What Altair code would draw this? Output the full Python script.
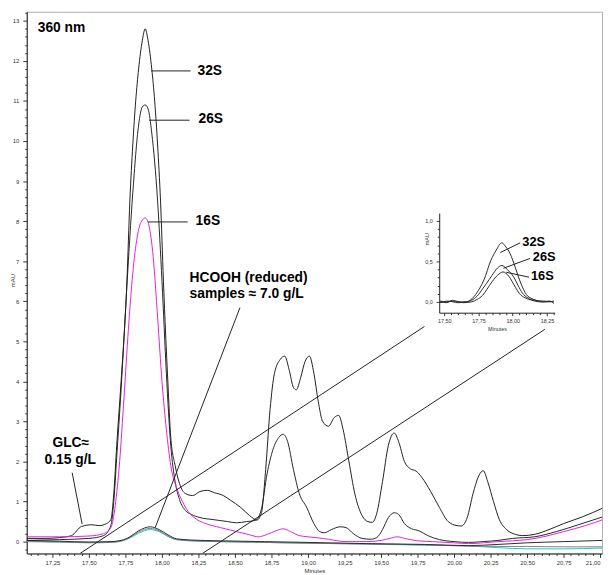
import altair as alt
import pandas as pd
import numpy as np

# ---------------- main chromatogram (minutes, mAU) ----------------
t_32S = [17.07, 17.20, 17.30, 17.38, 17.45, 17.52, 17.57, 17.62, 17.65, 17.67, 17.69, 17.72, 17.76, 17.78,
         17.80, 17.82, 17.84, 17.865, 17.885, 17.905, 17.93, 17.95, 17.97, 17.99, 18.01, 18.04, 18.06, 18.09,
         18.12, 18.16, 18.21, 18.26, 18.31, 18.36, 18.42, 18.47, 18.54, 18.60, 18.65, 18.68, 18.71, 18.74,
         18.77, 18.81, 18.84, 18.87, 18.90, 18.92, 18.95, 18.98, 19.01, 19.04, 19.07, 19.10, 19.14, 19.18,
         19.21, 19.24, 19.28, 19.32, 19.37, 19.41, 19.44, 19.47, 19.51, 19.55, 19.59, 19.62, 19.66, 19.70,
         19.74, 19.78, 19.84, 19.90, 19.96, 20.02, 20.05, 20.09, 20.13, 20.17, 20.20, 20.23, 20.27, 20.31,
         20.36, 20.42, 20.47, 20.55, 20.65, 20.75, 20.88, 21.02]
v_32S = [0.08, 0.08, 0.10, 0.15, 0.38, 0.42, 0.40, 0.45, 0.55, 1.2, 2.4, 4.0, 6.5, 8.5,
         9.9, 11.0, 11.8, 12.5, 12.8, 12.5, 11.8, 11.0, 9.9, 8.5, 6.5, 4.0, 2.6, 1.9,
         1.45, 1.2, 1.15, 1.25, 1.28, 1.22, 1.15, 1.03, 0.85, 0.65, 0.54, 0.7, 1.8, 3.3,
         4.2, 4.55, 4.63, 4.3, 3.85, 3.79, 4.1, 4.5, 4.63, 4.2, 3.5, 3.0, 2.88, 3.1,
         3.15, 2.8, 2.0, 1.2, 0.65, 0.5, 0.48, 0.7, 1.5, 2.4, 2.71, 2.5, 2.0, 1.82,
         1.76, 1.6, 1.25, 0.85, 0.5, 0.4, 0.39, 0.6, 1.2, 1.65, 1.77, 1.5, 1.0, 0.55,
         0.3, 0.18, 0.15, 0.18, 0.3, 0.45, 0.62, 0.84]

t_26S = [17.07, 17.30, 17.50, 17.60, 17.65, 17.67, 17.69, 17.72, 17.76, 17.80, 17.84, 17.865, 17.885,
         17.905, 17.93, 17.97, 18.00, 18.03, 18.06, 18.09, 18.12, 18.16, 18.20, 18.26, 18.35, 18.45, 18.51,
         18.58, 18.64, 18.68, 18.72, 18.76, 18.80, 18.83, 18.86, 18.90, 18.94, 18.99, 19.04, 19.08, 19.11,
         19.16, 19.22, 19.26, 19.31, 19.37, 19.43, 19.47, 19.51, 19.55, 19.59, 19.62, 19.66, 19.71, 19.76,
         19.82, 19.90, 20.00, 20.10, 20.20, 20.30, 20.40, 20.55, 20.70, 20.85, 21.02]
v_26S = [0.03, 0.05, 0.08, 0.15, 0.4, 1.0, 2.1, 3.8, 6.4, 8.7, 10.4, 10.85, 10.9,
         10.8, 10.2, 8.5, 6.5, 4.2, 2.4, 1.5, 1.05, 0.78, 0.68, 0.6, 0.55, 0.5, 0.47,
         0.5, 0.53, 0.8, 1.7, 2.3, 2.6, 2.68, 2.5, 1.8, 1.2, 0.86, 0.45, 0.25, 0.22,
         0.3, 0.37, 0.35, 0.2, 0.08, 0.06, 0.1, 0.3, 0.6, 0.72, 0.68, 0.45, 0.32, 0.27,
         0.15, 0.05, 0.0, -0.02, 0.0, 0.03, 0.08, 0.12, 0.25, 0.42, 0.62]

t_16S = [17.07, 17.30, 17.50, 17.60, 17.65, 17.68, 17.71, 17.74, 17.77, 17.80, 17.83, 17.86, 17.885,
         17.91, 17.94, 17.97, 18.00, 18.03, 18.06, 18.10, 18.14, 18.18, 18.24, 18.30, 18.40, 18.51, 18.60,
         18.66, 18.72, 18.78, 18.83, 18.88, 18.94, 19.00, 19.10, 19.26, 19.40, 19.50, 19.56, 19.61, 19.66,
         19.75, 19.85, 20.00, 20.10, 20.20, 20.30, 20.40, 20.50, 20.61, 20.75, 20.90, 21.02]
v_16S = [0.12, 0.12, 0.14, 0.2, 0.35, 0.9, 2.0, 3.6, 5.3, 6.7, 7.6, 8.0, 8.08,
         7.9, 7.1, 5.6, 4.0, 2.8, 1.9, 1.35, 1.0, 0.75, 0.55, 0.45, 0.35, 0.25, 0.17,
         0.12, 0.18, 0.27, 0.32, 0.25, 0.15, 0.12, 0.08, 0.0, 0.0, 0.03, 0.08, 0.12, 0.08,
         0.02, 0.0, -0.03, -0.05, -0.03, 0.0, 0.02, 0.05, 0.12, 0.25, 0.4, 0.55]

# HCOOH (reduced) samples, low traces
t_low = [17.07, 17.30, 17.50, 17.65, 17.72, 17.78, 17.84, 17.92, 17.98, 18.04, 18.10, 18.20, 18.40,
         18.70, 19.00, 19.40, 19.80, 20.10, 20.30, 20.50, 20.75, 21.02]
v_low1 = [0.03, 0.01, -0.01, 0.0, 0.03, 0.12, 0.27, 0.37, 0.30, 0.17, 0.07, 0.04, 0.02,
          0.0, -0.02, -0.05, -0.07, -0.10, -0.07, -0.03, 0.0, 0.03]
v_low2 = [0.0, -0.01, -0.03, -0.02, 0.01, 0.10, 0.24, 0.33, 0.27, 0.14, 0.05, 0.02, 0.0,
          -0.02, -0.04, -0.06, -0.08, -0.11, -0.12, -0.12, -0.13, -0.13]
v_low3 = [0.01, -0.01, -0.02, -0.01, 0.02, 0.09, 0.21, 0.30, 0.25, 0.13, 0.05, 0.02, 0.0,
          -0.02, -0.04, -0.06, -0.09, -0.11, -0.15, -0.18, -0.18, -0.16]

# ---------------- inset (minutes, mAU) ----------------
ti_32S = [17.47, 17.52, 17.56, 17.60, 17.66, 17.69, 17.72, 17.76, 17.79, 17.84, 17.88, 17.92, 17.95,
          17.98, 18.02, 18.05, 18.08, 18.10, 18.14, 18.17, 18.22, 18.27, 18.30]
vi_32S = [0.0, -0.01, 0.02, 0.0, 0.0, 0.02, 0.07, 0.17, 0.27, 0.51, 0.64, 0.73, 0.68,
          0.60, 0.42, 0.27, 0.15, 0.09, 0.04, 0.02, 0.0, 0.01, -0.02]
ti_26S = [17.47, 17.53, 17.60, 17.66, 17.70, 17.74, 17.78, 17.81, 17.85, 17.89, 17.92, 17.96, 18.01,
          18.04, 18.07, 18.11, 18.16, 18.22, 18.30]
vi_26S = [-0.01, 0.01, -0.01, 0.0, 0.02, 0.07, 0.16, 0.23, 0.33, 0.42, 0.45, 0.40, 0.30,
          0.20, 0.11, 0.05, 0.02, 0.01, 0.0]
ti_16S = [17.47, 17.52, 17.58, 17.64, 17.70, 17.74, 17.78, 17.81, 17.85, 17.89, 17.93, 17.97, 18.02,
          18.05, 18.09, 18.14, 18.20, 18.26, 18.30]
vi_16S = [0.01, 0.0, 0.01, -0.01, 0.0, 0.03, 0.08, 0.15, 0.25, 0.33, 0.37, 0.32, 0.18,
          0.10, 0.05, 0.02, 0.0, 0.0, 0.01]

# annotation texts (main chart coords)
txt_label = ["360 nm", "32S", "26S", "16S", "HCOOH (reduced)", "samples \u2248 7.0 g/L", "GLC\u2248", "0.15 g/L"]
txt_x = [17.149, 18.243, 18.25, 18.23, 18.189, 18.189, 17.25, 17.196]
txt_y = [12.81, 11.75, 10.54, 8.0, 6.58, 6.18, 2.46, 2.04]

# annotation segments (main chart coords)
seg_x1 = [17.926, 17.912, 17.905, 18.534, 17.385, 17.439, 18.277]
seg_y1 = [11.75, 10.52, 7.98, 5.84, 1.72, -0.296, -0.296]
seg_x2 = [18.196, 18.189, 18.176, 17.953, 17.453, 19.797, 20.622]
seg_y2 = [11.75, 10.52, 7.98, 0.345, 0.44, 5.37, 5.30]

# inset annotations
itxt_label = ["32S", "26S", "16S"]
itxt_x = [18.07, 18.147, 18.133]
itxt_y = [0.745, 0.549, 0.317]
iseg_x1 = [17.91, 17.932, 17.953]
iseg_y1 = [0.61, 0.415, 0.366]
iseg_x2 = [18.055, 18.126, 18.119]
iseg_y2 = [0.73, 0.537, 0.305]

X_DOMAIN = [17.074, 21.013]
Y_DOMAIN = [-0.296, 13.227]
IX_DOMAIN = [17.464, 18.306]
IY_DOMAIN = [-0.134, 1.098]

W, H = 583, 549
FONT = "Liberation Sans"


def sdf(name, t, v):
    return pd.DataFrame({"t": t, "v": v, "s": name})


main_df = pd.concat([
    sdf("low3", t_low, v_low3), sdf("low2", t_low, v_low2), sdf("low1", t_low, v_low1),
    sdf("26S", t_26S, v_26S), sdf("32S", t_32S, v_32S), sdf("16S", t_16S, v_16S),
])
inset_df = pd.concat([sdf("16S", ti_16S, vi_16S), sdf("26S", ti_26S, vi_26S), sdf("32S", ti_32S, vi_32S)])
txt_df = pd.DataFrame({"t": txt_x, "v": txt_y, "label": txt_label})
seg_df = pd.DataFrame({"t": seg_x1, "v": seg_y1, "t2": seg_x2, "v2": seg_y2})
itxt_df = pd.DataFrame({"t": itxt_x, "v": itxt_y, "label": itxt_label})
iseg_df = pd.DataFrame({"t": iseg_x1, "v": iseg_y1, "t2": iseg_x2, "v2": iseg_y2})

series_dom = ["low3", "low2", "low1", "26S", "32S", "16S"]
series_rng = ["#22c4cc", "#808080", "#2a2a2a", "#262626", "#1e1e1e", "#e020e0"]

quarter = "abs(datum.value*4 - round(datum.value*4)) < 0.01"
whole = "abs(datum.value - round(datum.value)) < 0.01"
half = "abs(datum.value*2 - round(datum.value*2)) < 0.01"

x_ticks = np.round(np.arange(17.10, 21.001, 0.05), 2).tolist()
y_ticks = np.round(np.arange(-0.2, 13.21, 0.2), 1).tolist()
ix_ticks = np.round(np.arange(17.50, 18.301, 0.05), 2).tolist()
iy_ticks = np.round(np.arange(0.0, 1.001, 0.1), 1).tolist()

xs = alt.Scale(domain=X_DOMAIN, nice=False, zero=False)
ys = alt.Scale(domain=Y_DOMAIN, nice=False, zero=False)
ixs = alt.Scale(domain=IX_DOMAIN, nice=False, zero=False, range=[418, 535])
iys = alt.Scale(domain=IY_DOMAIN, nice=False, zero=False, range=[305, 204])

common_axis = dict(grid=False, labelFont=FONT, titleFont=FONT, labelColor="#333", titleColor="#333",
                   domainColor="#222", tickColor="#333", labelOverlap=False, labelFlush=False,
                   labelBound=False, titleFontWeight="normal")

x_axis = alt.Axis(values=x_ticks, orient="bottom", labelFontSize=6, titleFontSize=6,
                  labelExpr=f"{quarter} ? replace(format(datum.value, '.2f'), '.', ',') : ''",
                  labelAlign={"condition": {"test": "datum.value > 20.99", "value": "right"}, "value": "center"},
                  tickSize={"condition": {"test": quarter, "value": 4}, "value": 2},
                  labelPadding=2, titleY=14, titleBaseline="top", **common_axis)
y_axis = alt.Axis(values=y_ticks, orient="left", labelFontSize=6, titleFontSize=6,
                  labelExpr=f"{whole} ? format(datum.value, '.0f') : ''",
                  tickSize={"condition": {"test": whole, "value": 4}, "value": 2},
                  labelPadding=4, titleX=-14, titleY=272, titleAngle=270,
                  titleAlign="center", titleBaseline="middle", **common_axis)

ix_axis = alt.Axis(values=ix_ticks, orient="bottom", offset=-244, labelFontSize=5.5, titleFontSize=5.5,
                   labelExpr=f"{quarter} ? replace(format(datum.value, '.2f'), '.', ',') : ''",
                   tickSize={"condition": {"test": quarter, "value": 3}, "value": 2},
                   labelPadding=3, titlePadding=3, **common_axis)
iy_axis = alt.Axis(values=iy_ticks, orient="left", offset=-418, labelFontSize=5.5, titleFontSize=5.5,
                   labelExpr=f"{half} ? replace(format(datum.value, '.1f'), '.', ',') : ''",
                   tickSize={"condition": {"test": half, "value": 3}, "value": 2},
                   labelPadding=4, titleX=-13, titleY=230, titleAngle=270,
                   titleAlign="center", titleBaseline="middle", **common_axis)

X = alt.X("t:Q", scale=xs, axis=x_axis, title="Minutes")
Y = alt.Y("v:Q", scale=ys, axis=y_axis, title="mAU")

main_lines = alt.Chart(main_df).mark_line(strokeWidth=1, clip=True, interpolate="monotone").encode(
    x=X, y=Y,
    color=alt.Color("s:N", scale=alt.Scale(domain=series_dom, range=series_rng), legend=None),
    order=alt.Order("t:Q"),
)
main_segs = alt.Chart(seg_df).mark_rule(color="#222", strokeWidth=1, clip=True).encode(
    x=X, y=Y, x2="t2:Q", y2="v2:Q")
main_text = alt.Chart(txt_df).mark_text(align="left", baseline="middle", font=FONT, fontWeight="bold",
                                        fontSize=14, color="#000").encode(x=X, y=Y, text="label:N")
main_group = alt.layer(main_lines, main_segs, main_text)

IX = alt.X("t:Q", scale=ixs, axis=ix_axis, title="Minutes")
IY = alt.Y("v:Q", scale=iys, axis=iy_axis, title="mAU")
inset_lines = alt.Chart(inset_df).mark_line(strokeWidth=1, color="#2a2a2a", interpolate="monotone").encode(
    x=IX, y=IY, detail="s:N", order=alt.Order("t:Q"))
inset_segs = alt.Chart(iseg_df).mark_rule(color="#222", strokeWidth=1).encode(
    x=IX, y=IY, x2="t2:Q", y2="v2:Q")
inset_text = alt.Chart(itxt_df).mark_text(align="left", baseline="middle", font=FONT, fontWeight="bold",
                                          fontSize=13, color="#000").encode(x=IX, y=IY, text="label:N")
inset_group = alt.layer(inset_lines, inset_segs, inset_text)

chart = alt.layer(main_group, inset_group).resolve_scale(
    x="independent", y="independent"
).properties(
    width=W, height=H,
    autosize=alt.AutoSizeParams(type="none"),
    padding={"left": 19, "top": 0, "right": 2, "bottom": 17},
    background="white",
).configure_view(stroke="#b0b0b0", strokeWidth=1)

chart.save("out.html", embed_options={"renderer": "svg", "actions": False})
